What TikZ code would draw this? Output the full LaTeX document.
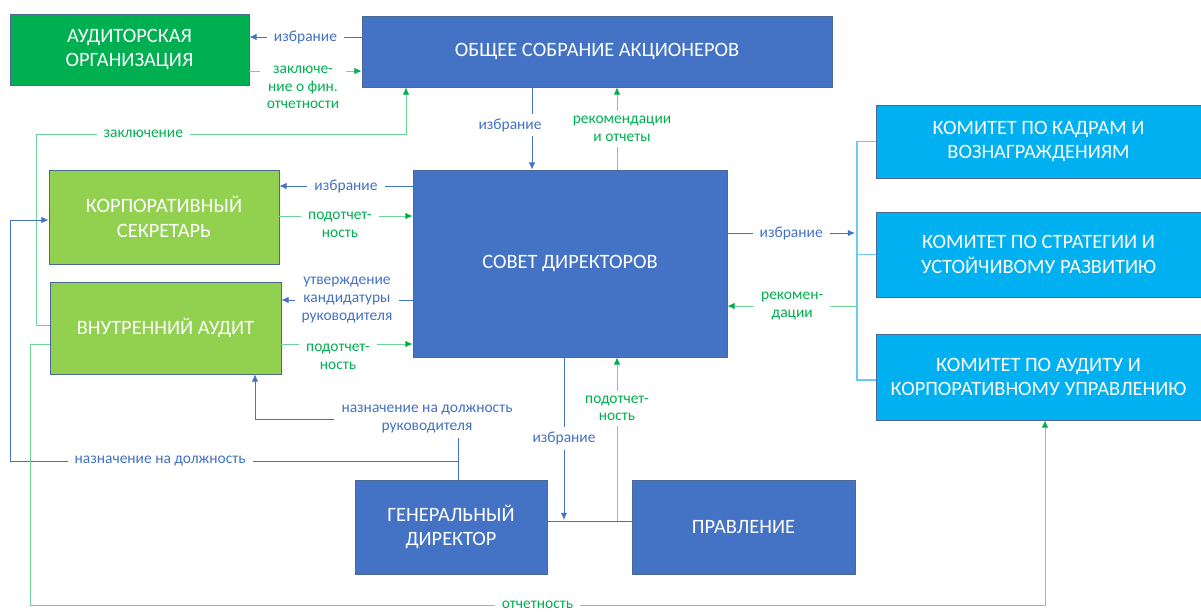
\documentclass[tikz,border=0pt]{standalone}
\usepackage{fontspec}
\setmainfont{Carlito}
\usetikzlibrary{arrows.meta,positioning}
\definecolor{cblue}{HTML}{4472C4}
\definecolor{cdgreen}{HTML}{00B050}
\definecolor{clgreen}{HTML}{92D050}
\definecolor{ccyan}{HTML}{00B0F0}
\definecolor{cgline}{HTML}{6FD597}
\definecolor{cbus}{HTML}{6CCBF2}
\definecolor{cedge}{HTML}{4A6A95}

\begin{document}
\begin{tikzpicture}[
    x=0.025cm, y=-0.025cm,
    box/.style={draw=cedge, line width=0.5pt, text=white, align=center, inner sep=2pt,
                font=\fontsize{14.5}{17.5}\selectfont},
    bconn/.style={cblue, line width=0.6pt, -{Latex[length=1.8mm, width=1.6mm]}},
    gconn/.style={cgline, line width=0.6pt, -{Latex[length=1.8mm, width=1.6mm, color=cdgreen]}},
    blbl/.style={fill=white, text=cblue, align=center, inner xsep=5pt, inner ysep=3.5pt,
                 font=\fontsize{11}{12.5}\selectfont},
    glbl/.style={blbl, text=cdgreen},
]
\useasboundingbox (0,0) rectangle (1201,612);

% Boxes
\node[box, fill=cdgreen, minimum width=5.975cm, minimum height=1.775cm] (audorg) at (129.5,49.5) {АУДИТОРСКАЯ\\ОРГАНИЗАЦИЯ};
\node[box, fill=cblue, minimum width=11.75cm, minimum height=1.775cm] (osa) at (597,51.5) {ОБЩЕЕ СОБРАНИЕ АКЦИОНЕРОВ};
\node[box, fill=clgreen, minimum width=5.75cm, minimum height=2.35cm] (sec) at (164,217) {КОРПОРАТИВНЫЙ\\СЕКРЕТАРЬ};
\node[box, fill=clgreen, minimum width=5.775cm, minimum height=2.3cm] (inaudit) at (165.5,328) {ВНУТРЕННИЙ АУДИТ};
\node[box, fill=cblue, minimum width=7.85cm, minimum height=4.675cm] (sd) at (570,263.5) {СОВЕТ ДИРЕКТОРОВ};
\node[box, fill=ccyan, minimum width=8.125cm, minimum height=1.825cm] (com1) at (1038.5,141.5) {КОМИТЕТ ПО КАДРАМ И\\ВОЗНАГРАЖДЕНИЯМ};
\node[box, fill=ccyan, minimum width=8.125cm, minimum height=2.125cm] (com2) at (1038.5,254.5) {КОМИТЕТ ПО СТРАТЕГИИ И\\УСТОЙЧИВОМУ РАЗВИТИЮ};
\node[box, fill=ccyan, minimum width=8.125cm, minimum height=2.15cm] (com3) at (1038.5,377) {КОМИТЕТ ПО АУДИТУ И\\КОРПОРАТИВНОМУ УПРАВЛЕНИЮ};
\node[box, fill=cblue, minimum width=4.8cm, minimum height=2.35cm] (gd) at (451,527) {ГЕНЕРАЛЬНЫЙ\\ДИРЕКТОР};
\node[box, fill=cblue, minimum width=5.575cm, minimum height=2.35cm] (pravl) at (743.5,527) {ПРАВЛЕНИЕ};

% Shareholders <-> auditor
\draw[bconn] (osa.west |- 0,37) -- node[blbl] (l1) {избрание} (audorg.east |- 0,37);
\draw[gconn] (audorg.east |- 0,71) -- (osa.west |- 0,71);
\node[glbl, anchor=north] (l2) at (303,61) {заключе-\\ние о фин.\\отчетности};

% Internal audit -> shareholders
\draw[gconn] (inaudit.west |- 0,325) -- (36,325) -- (36,134)
    -- node[glbl, pos=0.29] (l3) {заключение} (406,134) -- (osa.south -| 406,0);

% Shareholders <-> board
\draw[bconn] (osa.south -| 532,0) -- (sd.north -| 532,0);
\node[blbl] (l4) at (510,125) {избрание};
\draw[gconn] (sd.north -| 617,0) -- (osa.south -| 617,0);
\node[glbl] (l5) at (622,129) {рекомендации\\и отчеты};

% Board <-> secretary, internal audit
\draw[bconn] (sd.west |- 0,186) -- node[blbl] (l6) {избрание} (sec.east |- 0,186);
\draw[gconn] (sec.east |- 0,216) -- (sd.west |- 0,216);
\node[glbl, anchor=north] (l7) at (340,207) {подотчет-\\ность};
\draw[bconn] (sd.west |- 0,300) -- node[blbl] (l8) {утверждение\\кандидатуры\\руководителя} (inaudit.east |- 0,300);
\draw[gconn] (inaudit.east |- 0,344) -- (sd.west |- 0,344);
\node[glbl, anchor=north] (l9) at (338,339) {подотчет-\\ность};

% Board <-> committees
\draw[cbus, line width=0.8pt] (com1.west) -- (857,141.5) -- (857,380) -- (com3.west |- 0,380);
\draw[cbus, line width=0.8pt] (857,254.5) -- (com2.west);
\draw[bconn] (sd.east |- 0,233) -- node[blbl] (l10) {избрание} (855,233);
\draw[gconn] (857,306) -- node[glbl] (l11) {рекомен-\\дации} (sd.east |- 0,306);

% Board <-> executives
\draw[cblue, line width=0.6pt] (gd.east |- 0,521) -- (pravl.west |- 0,521);
\draw[bconn] (sd.south -| 564,0) -- node[blbl] (l12) {избрание} (564,520);
\draw[gconn] (617,521) -- node[glbl, pos=0.69] (l13) {подотчет-\\ность} (sd.south -| 617,0);

% CEO appointments
\draw[bconn] (gd.north -| 458,0) -- (458,419) -- (255,419) -- (inaudit.south -| 255,0);
\node[blbl] (l14) at (427,419) {назначение на должность\\руководителя};
\draw[bconn] (458,461) -- node[blbl, pos=0.665] (l15) {назначение на должность} (10,461)
    -- (10,220) -- (sec.west |- 0,220);

% Internal audit reporting to audit committee
\draw[gconn] (inaudit.west |- 0,344) -- (30,344) -- (30,605)
    -- node[glbl] (l16) {отчетность} (1045,605) -- (com3.south -| 1045,0);

\end{tikzpicture}
\end{document}
